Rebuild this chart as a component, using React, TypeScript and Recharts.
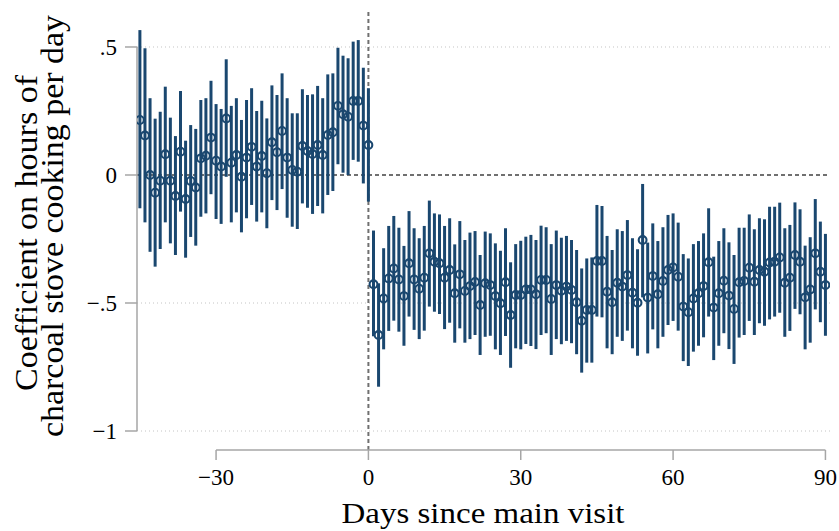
import React from "react";
import {
  ScatterChart,
  Scatter,
  XAxis,
  YAxis,
  ErrorBar,
  ReferenceLine,
} from "recharts";

// days run from -45 to 90, one estimate per day
const firstDay = -45;

const coef = [
  // -45 .. -36
  0.215, 0.154, 0.0, -0.069, -0.022, 0.081, -0.022, -0.082, 0.091, -0.094,
  // -35 .. -26
  -0.023, -0.049, 0.065, 0.075, 0.146, 0.056, 0.033, 0.221, 0.048, 0.078,
  // -25 .. -16
  -0.007, 0.068, 0.11, 0.033, 0.074, 0.007, 0.128, 0.089, 0.172, 0.068,
  // -15 .. -6
  0.02, 0.013, 0.113, 0.094, 0.082, 0.117, 0.078, 0.156, 0.167, 0.27,
  // -5 .. 0
  0.237, 0.228, 0.289, 0.289, 0.193, 0.117,
  // 1 .. 10
  -0.427, -0.625, -0.482, -0.404, -0.365, -0.408, -0.473, -0.345, -0.408, -0.444,
  // 11 .. 20
  -0.401, -0.306, -0.339, -0.345, -0.401, -0.371, -0.462, -0.388, -0.453, -0.434,
  // 21 .. 30
  -0.418, -0.508, -0.423, -0.43, -0.473, -0.501, -0.419, -0.547, -0.469, -0.469,
  // 31 .. 40
  -0.447, -0.447, -0.466, -0.41, -0.41, -0.484, -0.43, -0.452, -0.436, -0.449,
  // 41 .. 50
  -0.497, -0.569, -0.527, -0.527, -0.336, -0.336, -0.456, -0.497, -0.421, -0.436,
  // 51 .. 60
  -0.391, -0.46, -0.499, -0.254, -0.479, -0.395, -0.466, -0.414, -0.371, -0.361,
  // 61 .. 70
  -0.397, -0.514, -0.536, -0.482, -0.462, -0.434, -0.341, -0.518, -0.462, -0.413,
  // 71 .. 80
  -0.471, -0.523, -0.419, -0.414, -0.362, -0.417, -0.371, -0.378, -0.342, -0.339,
  // 81 .. 90
  -0.322, -0.421, -0.401, -0.3125, -0.339, -0.478, -0.447, -0.306, -0.378, -0.43,
];

const ciLow = [
  -0.13, -0.185, -0.3, -0.358, -0.289, -0.185, -0.267, -0.3125, -0.143, -0.323,
  -0.242, -0.276, -0.163, -0.15, -0.075, -0.172, -0.191, -0.007, -0.185, -0.146,
  -0.224, -0.169, -0.117, -0.182, -0.146, -0.208, -0.098, -0.137, -0.055, -0.167,
  -0.202, -0.211, -0.111, -0.128, -0.152, -0.121, -0.15, -0.078, -0.0625, 0.042,
  0.009, 0.0, 0.059, 0.052, -0.033, -0.104,
  -0.63, -0.827, -0.681, -0.609, -0.569, -0.612, -0.667, -0.553, -0.605, -0.641,
  -0.608, -0.514, -0.534, -0.543, -0.602, -0.577, -0.655, -0.599, -0.655, -0.641,
  -0.625, -0.703, -0.632, -0.628, -0.681, -0.703, -0.629, -0.753, -0.677, -0.681,
  -0.66, -0.668, -0.68, -0.625, -0.618, -0.703, -0.641, -0.661, -0.648, -0.657,
  -0.7, -0.772, -0.733, -0.733, -0.553, -0.556, -0.677, -0.7, -0.632, -0.648,
  -0.608, -0.677, -0.706, -0.478, -0.697, -0.603, -0.677, -0.632, -0.586, -0.57,
  -0.608, -0.727, -0.746, -0.69, -0.667, -0.634, -0.553, -0.723, -0.667, -0.618,
  -0.68, -0.738, -0.635, -0.625, -0.57, -0.625, -0.579, -0.589, -0.564, -0.553,
  -0.538, -0.632, -0.609, -0.523, -0.544, -0.681, -0.655, -0.525, -0.575, -0.628,
];

const ciHigh = [
  0.566, 0.495, 0.3, 0.22, 0.247, 0.345, 0.224, 0.152, 0.328, 0.134,
  0.195, 0.18, 0.293, 0.3, 0.368, 0.277, 0.258, 0.452, 0.27, 0.3,
  0.215, 0.293, 0.339, 0.25, 0.29, 0.221, 0.35, 0.3125, 0.397, 0.3,
  0.241, 0.241, 0.335, 0.3125, 0.315, 0.348, 0.3, 0.393, 0.397, 0.497,
  0.466, 0.456, 0.521, 0.527, 0.419, 0.339,
  -0.217, -0.423, -0.286, -0.199, -0.16, -0.206, -0.277, -0.141, -0.208, -0.247,
  -0.199, -0.1, -0.15, -0.154, -0.199, -0.169, -0.271, -0.18, -0.254, -0.225,
  -0.219, -0.3125, -0.221, -0.228, -0.267, -0.296, -0.208, -0.341, -0.27, -0.257,
  -0.241, -0.234, -0.254, -0.198, -0.204, -0.27, -0.217, -0.245, -0.238, -0.254,
  -0.293, -0.365, -0.326, -0.322, -0.117, -0.121, -0.238, -0.293, -0.212, -0.219,
  -0.176, -0.247, -0.29, -0.035, -0.264, -0.189, -0.258, -0.204, -0.156, -0.15,
  -0.186, -0.309, -0.326, -0.27, -0.258, -0.228, -0.13, -0.319, -0.258, -0.208,
  -0.263, -0.3125, -0.206, -0.206, -0.154, -0.212, -0.169, -0.173, -0.124, -0.124,
  -0.108, -0.208, -0.195, -0.107, -0.134, -0.276, -0.243, -0.094, -0.182, -0.23,
];

const xTicks = [-30, 0, 30, 60, 90];
const yTicks = [-1, -0.5, 0, 0.5];
const yTickLabels: Record<string, string> = {
  "-1": "\u22121",
  "-0.5": "\u2212.5",
  "0": "0",
  "0.5": ".5",
};

const data = coef.map((c, i) => ({
  day: firstDay + i,
  coef: c,
  err: [c - ciLow[i], ciHigh[i] - c],
}));

const NAVY = "#1a476f";
const FONT = "'Liberation Serif', 'Times New Roman', serif";
const X_MIN = -45.57;
const X_MAX = 90.9;
const Y_MIN = -1.0742;
const Y_MAX = 0.6445;

const Ring = (props: any) => {
  const { cx, cy } = props;
  return <circle cx={cx} cy={cy} r={3.9} fill="none" stroke={NAVY} strokeWidth={2.1} />;
};

const XTitle = () => (
  <text
    x={483}
    y={523}
    textAnchor="middle"
    fontFamily={FONT}
    fontSize={29}
    fill="#000"
    textLength={283}
    lengthAdjust="spacingAndGlyphs"
  >
    Days since main visit
  </text>
);

const YTitle = () => (
  <g fontFamily={FONT} fontSize={31} fill="#000">
    <text
      x={37}
      y={233}
      textAnchor="middle"
      transform="rotate(-90 37 233)"
      textLength={316}
      lengthAdjust="spacingAndGlyphs"
    >
      Coefficient on hours of
    </text>
    <text
      x={63}
      y={226}
      textAnchor="middle"
      transform="rotate(-90 63 226)"
      textLength={422}
      lengthAdjust="spacingAndGlyphs"
    >
      charcoal stove cooking per day
    </text>
  </g>
);

const App = () => {
  return (
    <div style={{ position: "absolute", left: 0, top: 0, background: "#fff" }}>
      <ScatterChart
        width={839}
        height={531}
        margin={{ top: 10, right: 9, bottom: 0, left: 0 }}
      >
        <XAxis
          type="number"
          dataKey="day"
          domain={[X_MIN, X_MAX]}
          allowDataOverflow
          ticks={xTicks}
          height={81}
          axisLine={false}
          tickLine={{ stroke: "#a6a6a6", strokeWidth: 1.5 }}
          tickSize={10}
          tickMargin={9}
          tick={{ fill: "#000", fontSize: 23, fontFamily: FONT }}
          tickFormatter={(v: number) => (v < 0 ? "\u2212" + Math.abs(v) : String(v))}
          label={{ content: () => <XTitle /> }}
        />
        <YAxis
          type="number"
          dataKey="coef"
          domain={[Y_MIN, Y_MAX]}
          allowDataOverflow
          ticks={yTicks}
          width={137}
          axisLine={false}
          tickLine={{ stroke: "#a6a6a6", strokeWidth: 1.5 }}
          tickSize={12}
          tickMargin={8}
          tick={{ fill: "#000", fontSize: 23, fontFamily: FONT }}
          tickFormatter={(v: number) => yTickLabels[String(v)] ?? String(v)}
          label={{ content: () => <YTitle /> }}
        />
        {[0.5, -0.5, -1].map((v) => (
          <ReferenceLine
            key={v}
            y={v}
            stroke="#c4c4c4"
            strokeWidth={1}
            strokeDasharray="1 3"
          />
        ))}
        <ReferenceLine y={0} stroke="#707070" strokeWidth={2} strokeDasharray="4 3" />
        <ReferenceLine x={0} stroke="#707070" strokeWidth={2} strokeDasharray="4 3" />
        <ReferenceLine
          segment={[
            { x: -30, y: Y_MIN },
            { x: 90, y: Y_MIN },
          ]}
          stroke="#a6a6a6"
          strokeWidth={1.5}
          ifOverflow="visible"
        />
        <ReferenceLine
          segment={[
            { x: X_MIN, y: -1 },
            { x: X_MIN, y: 0.5 },
          ]}
          stroke="#a6a6a6"
          strokeWidth={1.5}
          ifOverflow="visible"
        />
        <Scatter data={data} dataKey="coef" shape={Ring} isAnimationActive={false}>
          <ErrorBar
            dataKey="err"
            direction="y"
            width={0}
            stroke={NAVY}
            strokeWidth={3}
            isAnimationActive={false}
          />
        </Scatter>
      </ScatterChart>
    </div>
  );
};

export default App;
